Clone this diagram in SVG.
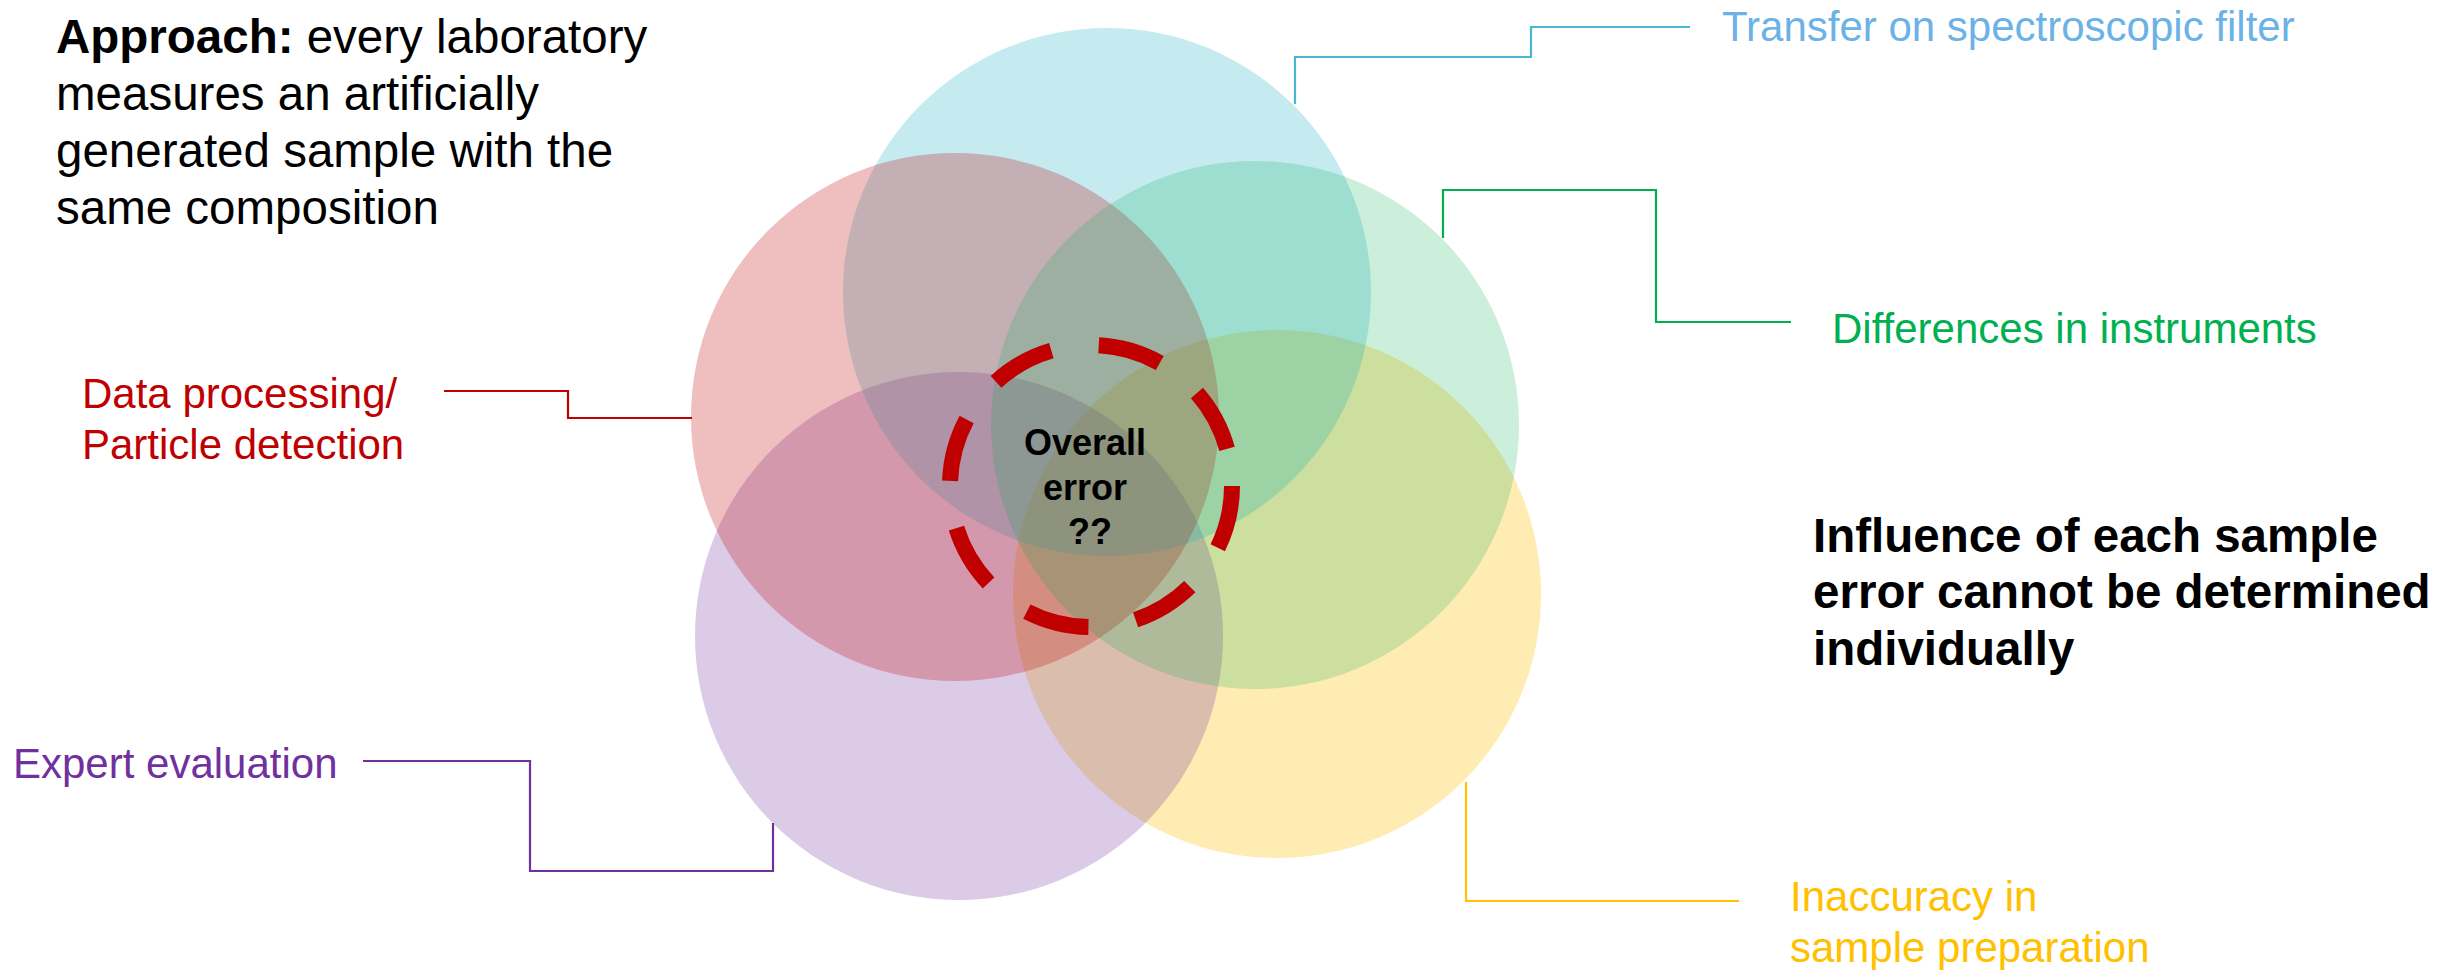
<svg xmlns="http://www.w3.org/2000/svg" width="2458" height="970" viewBox="0 0 2458 970">
  <style>
    text { font-family: "Liberation Sans", Arial, sans-serif; }
    .lbl { font-size: 42px; }
    .big { font-size: 47.5px; fill: #000; }
    .b { font-weight: bold; }
    .conn { fill: none; stroke-width: 2.2; }
  </style>
  <rect width="2458" height="970" fill="#ffffff"/>
  <g id="circles">
    <g id="circle-yellow"><circle cx="1277" cy="594" r="264" fill="#FFC000" fill-opacity="0.3"/></g>
    <g id="circle-purple"><circle cx="959" cy="636" r="264" fill="#7030A0" fill-opacity="0.25"/></g>
    <g id="circle-blue"><circle cx="1107" cy="292" r="264" fill="#3EB9CD" fill-opacity="0.3"/></g>
    <g id="circle-red"><circle cx="955" cy="417" r="264" fill="#C00000" fill-opacity="0.25"/></g>
    <g id="circle-green"><circle cx="1255" cy="425" r="264" fill="#00B050" fill-opacity="0.2"/></g>
  </g>
  <g id="overall-error">
    <circle cx="1091" cy="486" r="141" fill="none" stroke="#C00000" stroke-width="16" stroke-dasharray="64 48"/>
    <text class="b" font-size="36" text-anchor="middle" fill="#000">
      <tspan x="1090" y="455">Overall</tspan>
      <tspan x="1090" y="500">error</tspan>
      <tspan x="1090" y="544">??</tspan>
    </text>
  </g>
  <g id="connectors">
    <path class="conn" stroke="#4BB6D2" d="M1295,104 V57 H1531 V27 H1690"/>
    <path class="conn" stroke="#00B050" d="M1443,238 V190 H1656 V322 H1791"/>
    <path class="conn" stroke="#C00000" d="M444,391 H568 V418 H692"/>
    <path class="conn" stroke="#7030A0" d="M363,761 H530 V871 H773 V823"/>
    <path class="conn" stroke="#FFC000" d="M1466,782 V901 H1739"/>
  </g>
  <g id="approach">
    <text class="big">
      <tspan x="56" y="53"><tspan class="b">Approach:</tspan> every laboratory</tspan>
      <tspan x="56" y="110">measures an artificially</tspan>
      <tspan x="56" y="167">generated sample with the</tspan>
      <tspan x="56" y="224">same composition</tspan>
    </text>
  </g>
  <g id="label-transfer">
    <text class="lbl" x="1722" y="41" fill="#6BB2E6">Transfer on spectroscopic filter</text>
  </g>
  <g id="label-instruments">
    <text class="lbl" x="1832" y="343" fill="#00B050">Differences in instruments</text>
  </g>
  <g id="label-data">
    <text class="lbl" fill="#C00000">
      <tspan x="82" y="408">Data processing/</tspan>
      <tspan x="82" y="459">Particle detection</tspan>
    </text>
  </g>
  <g id="label-expert">
    <text class="lbl" x="13" y="778" fill="#7030A0">Expert evaluation</text>
  </g>
  <g id="label-inaccuracy">
    <text class="lbl" fill="#FFC000">
      <tspan x="1790" y="911">Inaccuracy in</tspan>
      <tspan x="1790" y="962">sample preparation</tspan>
    </text>
  </g>
  <g id="influence">
    <text class="big b">
      <tspan x="1813" y="552">Influence of each sample</tspan>
      <tspan x="1813" y="608">error cannot be determined</tspan>
      <tspan x="1813" y="665">individually</tspan>
    </text>
  </g>
</svg>
